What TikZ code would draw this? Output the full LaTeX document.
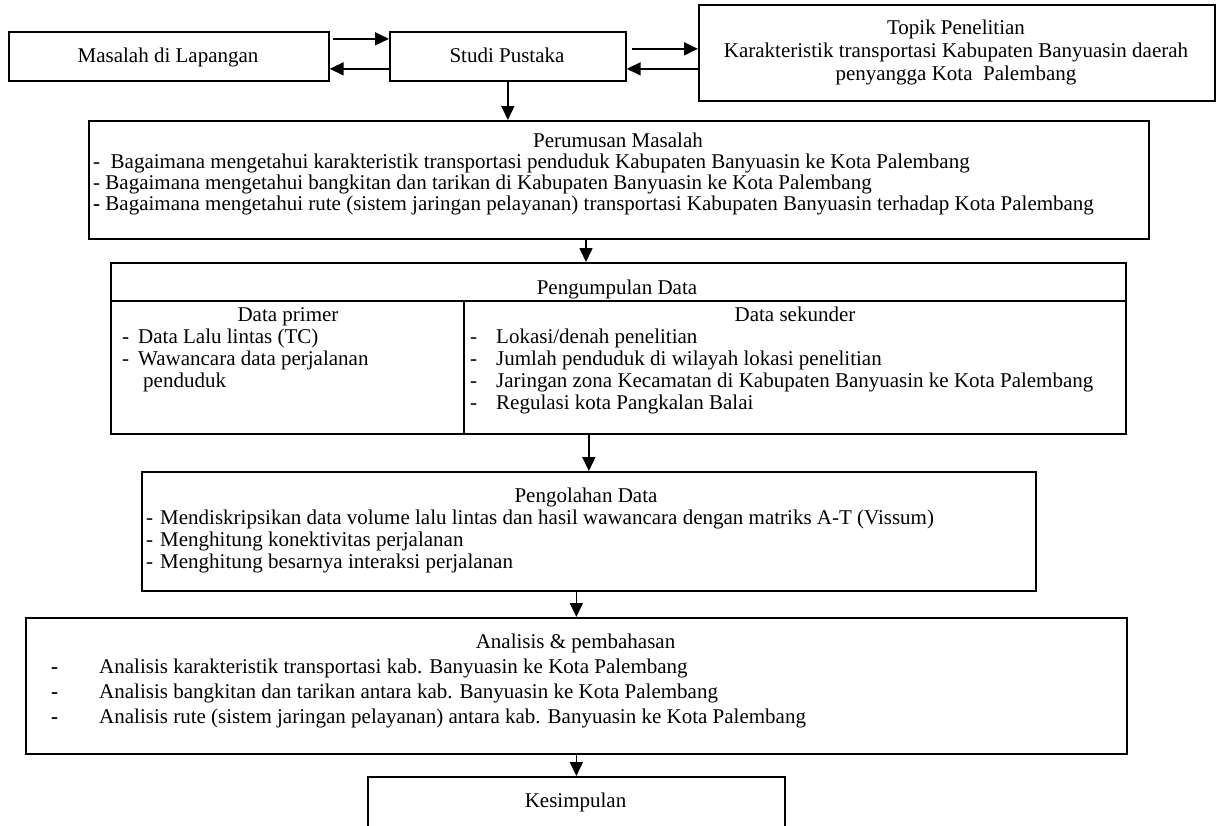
\documentclass[tikz,border=0pt]{standalone}
\usepackage{fontspec}
\setmainfont{Liberation Serif}
\usetikzlibrary{arrows.meta,calc}
\begin{document}
\begin{tikzpicture}[x=1pt,y=-1pt,
  box/.style={draw, line width=1.7pt, rectangle, inner sep=0pt, anchor=north west},
  txt/.style={inner sep=0pt, font=\fontsize{21}{22}\selectfont},
  ltxt/.style={txt, anchor=base west},
  ctxt/.style={txt, anchor=base},
  rule/.style={line width=1.7pt},
  arr/.style={line width=1.7pt, -{Triangle[length=14pt,width=13pt]}}]
\useasboundingbox (0,0) rectangle (1216,825);
\clip (0,0) rectangle (1216,825);

% boxes
\node[box, minimum width=320pt, minimum height=49pt] (masalah) at (8,31) {};
\node[box, minimum width=236pt, minimum height=49pt] (studi) at (389,31) {};
\node[box, minimum width=516pt, minimum height=96pt] (topik) at (698,4) {};
\node[box, minimum width=1060pt, minimum height=118pt] (perumusan) at (88,120) {};
\node[box, minimum width=1015pt, minimum height=171pt] (pengumpulan) at (110,262) {};
\node[box, minimum width=894pt, minimum height=119pt] (pengolahan) at (141,471) {};
\node[box, minimum width=1101pt, minimum height=136pt] (analisis) at (25,617) {};
\node[box, minimum width=417pt, minimum height=80pt] (kesimpulan) at (367,776) {};

% inner rules of Pengumpulan Data
\coordinate (hdiv) at (0,301);
\coordinate (vdiv) at (464,0);
\draw[rule] (pengumpulan.west |- hdiv) -- (pengumpulan.east |- hdiv);
\draw[rule] (vdiv |- hdiv) -- (vdiv |- pengumpulan.south);

% texts
\node[ctxt] (tmasalah) at (168,62.5) {Masalah di Lapangan};
\node[ctxt] (tstudi) at (507,62.5) {Studi Pustaka};
\node[ctxt] (ttopik1) at (956,34) {Topik Penelitian};
\node[ctxt] (ttopik2) at (956,57) {Karakteristik transportasi Kabupaten Banyuasin daerah};
\node[ctxt] (ttopik3) at (956,80) {penyangga Kota\ \ Palembang};

\node[ctxt] (tper0) at (618,147) {Perumusan Masalah};
\node[ltxt] (tper1) at (93,168) {-\ \ Bagaimana mengetahui karakteristik transportasi penduduk Kabupaten Banyuasin ke Kota Palembang};
\node[ltxt] (tper2) at (93,189) {- Bagaimana mengetahui bangkitan dan tarikan di Kabupaten Banyuasin ke Kota Palembang};
\node[ltxt] (tper3) at (93,210) {\textbf{-} Bagaimana mengetahui rute (sistem jaringan pelayanan) transportasi Kabupaten Banyuasin terhadap Kota Palembang};

\node[ctxt] (tpeng0) at (617,294) {Pengumpulan Data};
\node[ctxt] (tprim) at (288,321) {Data primer};
\node[ltxt] (tprim1d) at (122,343) {-};
\node[ltxt] (tprim1) at (138,343) {Data Lalu lintas (TC)};
\node[ltxt] (tprim2d) at (122,365) {-};
\node[ltxt] (tprim2) at (138,365) {Wawancara data perjalanan};
\node[ltxt] (tprim3) at (143,387) {penduduk};
\node[ctxt] (tsek) at (795,321) {Data sekunder};
\node[ltxt] (tsek1d) at (470,343) {-};
\node[ltxt] (tsek1) at (496,343) {Lokasi/denah penelitian};
\node[ltxt] (tsek2d) at (470,365) {-};
\node[ltxt] (tsek2) at (496,365) {Jumlah penduduk di wilayah lokasi penelitian};
\node[ltxt] (tsek3d) at (470,387) {-};
\node[ltxt] (tsek3) at (496,387) {Jaringan zona Kecamatan di Kabupaten Banyuasin ke Kota Palembang};
\node[ltxt] (tsek4d) at (470,409) {-};
\node[ltxt] (tsek4) at (496,409) {Regulasi kota Pangkalan Balai};

\node[ctxt] (tolah0) at (586,502) {Pengolahan Data};
\node[ltxt] (tolah1d) at (146,524) {-};
\node[ltxt] (tolah1) at (160,524) {Mendiskripsikan data volume lalu lintas dan hasil wawancara dengan matriks A-T (Vissum)};
\node[ltxt] (tolah2d) at (146,546) {-};
\node[ltxt] (tolah2) at (160,546) {Menghitung konektivitas perjalanan};
\node[ltxt] (tolah3d) at (146,568) {-};
\node[ltxt] (tolah3) at (160,568) {Menghitung besarnya interaksi perjalanan};

\node[ctxt] (tana0) at (575.5,648) {Analisis \& pembahasan};
\node[ltxt] (tana1d) at (51,673) {\textbf{-}};
\node[ltxt] (tana1) at (99,673) {Analisis karakteristik transportasi kab. Banyuasin ke Kota Palembang};
\node[ltxt] (tana2d) at (51,698) {\textbf{-}};
\node[ltxt] (tana2) at (99,698) {Analisis bangkitan dan tarikan antara kab. Banyuasin ke Kota Palembang};
\node[ltxt] (tana3d) at (51,723) {\textbf{-}};
\node[ltxt] (tana3) at (99,723) {Analisis rute (sistem jaringan pelayanan) antara kab. Banyuasin ke Kota Palembang};

\node[ctxt] (tkes) at (575.5,807) {Kesimpulan};

% connectors
\draw[arr] ([xshift=3pt,yshift=17.5pt]masalah.east) -- ([yshift=17.5pt]masalah.east -| studi.west);
\draw[arr] ([yshift=-12.5pt]masalah.east -| studi.west) -- ([yshift=-12.5pt]masalah.east);
\draw[arr] ([xshift=5pt,yshift=7.5pt]studi.east) -- ([yshift=7.5pt]studi.east -| topik.west);
\draw[arr] ([yshift=-12.5pt]studi.east -| topik.west) -- ([yshift=-12.5pt]studi.east);
\draw[arr] (studi.south) -- (studi.south |- perumusan.north);
\coordinate (ax) at (586,0);
\draw[arr] (ax |- perumusan.south) -- (ax |- pengumpulan.north);
\draw[arr] (pengolahan.north |- pengumpulan.south) -- (pengolahan.north);
\draw[arr] (analisis.north |- pengolahan.south) -- (analisis.north);
\draw[arr] (analisis.south) -- (kesimpulan.north);
\end{tikzpicture}
\end{document}
